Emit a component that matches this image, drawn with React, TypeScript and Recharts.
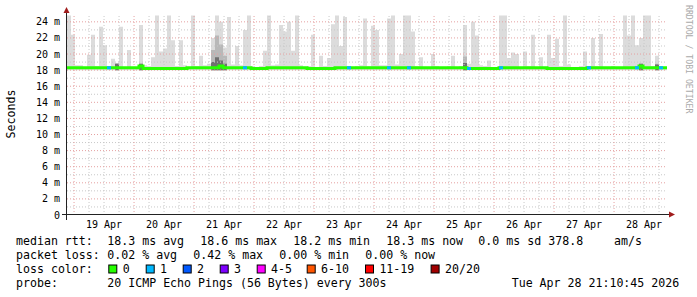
import React from 'react';
import { ComposedChart, Area, Line, XAxis, YAxis, ReferenceLine } from 'recharts';

// ---------- data ----------
const dayLabels = ['19 Apr', '20 Apr', '21 Apr', '22 Apr', '23 Apr', '24 Apr', '25 Apr', '26 Apr', '27 Apr', '28 Apr'];
const yTickValues = [0, 2, 4, 6, 8, 10, 12, 14, 16, 18, 20, 22, 24];
const yMinorValues = [1, 3, 5, 7, 9, 11, 13, 15, 17, 19, 21, 23];

// maximum of the smoke (ms) for each sample (10 days, 150 samples)
const smokeHigh = [
  24.8, 22.4, 18.6, 18.6, 18.4, 19.9, 22.4, 18.5, 23.4, 21.1,
  18.5, 19.4, 18.7, 23.4, 18.4, 20.5, 18.4, 18.4, 23.6, 18.6,
  18.5, 19.6, 24.8, 20.3, 20.7, 24.8, 21.7, 18.5, 21.7, 18.6,
  18.4, 24.8, 18.5, 19.8, 18.6, 18.8, 22.0, 24.8, 24.0, 20.8,
  24.6, 18.7, 21.0, 18.6, 23.0, 24.8, 18.5, 18.4, 18.5, 20.4,
  24.8, 18.6, 18.7, 23.6, 22.8, 24.0, 20.4, 24.8, 18.6, 18.4,
  18.5, 22.4, 18.4, 19.8, 18.5, 19.5, 23.7, 24.8, 21.0, 24.6,
  18.5, 18.4, 18.5, 18.6, 24.4, 18.5, 23.5, 23.0, 18.6, 18.6,
  24.4, 24.8, 18.7, 20.0, 24.8, 24.8, 22.8, 18.5, 19.6, 18.4,
  18.4, 20.0, 18.5, 18.4, 18.4, 18.5, 19.8, 18.4, 18.5, 23.6,
  18.8, 24.0, 22.3, 18.6, 18.5, 19.2, 18.4, 18.4, 24.8, 24.8,
  19.5, 20.2, 20.0, 18.4, 20.3, 18.5, 22.4, 18.4, 19.6, 18.4,
  22.4, 19.5, 21.9, 18.5, 24.8, 18.7, 18.4, 18.4, 18.5, 20.3,
  18.5, 22.0, 18.5, 22.5, 18.4, 18.4, 18.5, 18.4, 18.4, 24.8,
  22.3, 24.8, 21.1, 22.0, 24.8, 24.8, 18.5, 19.8, 18.4, 18.4,
];

// median rtt (ms) per sample
const medianRtt = [
  18.3, 18.3, 18.3, 18.3, 18.3, 18.3, 18.3, 18.3, 18.3, 18.3,
  18.3, 18.3, 18.3, 18.3, 18.3, 18.3, 18.3, 18.3, 18.5, 18.2,
  18.2, 18.2, 18.2, 18.2, 18.2, 18.2, 18.2, 18.2, 18.2, 18.2,
  18.3, 18.3, 18.3, 18.3, 18.3, 18.3, 18.3, 18.3, 18.5, 18.3,
  18.3, 18.3, 18.3, 18.3, 18.3, 18.3, 18.2, 18.2, 18.2, 18.2,
  18.3, 18.3, 18.3, 18.3, 18.3, 18.3, 18.3, 18.3, 18.3, 18.3,
  18.2, 18.2, 18.2, 18.2, 18.2, 18.2, 18.2, 18.3, 18.3, 18.3,
  18.3, 18.3, 18.3, 18.3, 18.3, 18.3, 18.3, 18.3, 18.3, 18.3,
  18.3, 18.3, 18.3, 18.3, 18.3, 18.3, 18.3, 18.3, 18.3, 18.3,
  18.3, 18.3, 18.3, 18.3, 18.3, 18.3, 18.3, 18.3, 18.3, 18.3,
  18.2, 18.2, 18.2, 18.2, 18.2, 18.2, 18.2, 18.2, 18.3, 18.3,
  18.3, 18.3, 18.3, 18.3, 18.3, 18.3, 18.3, 18.3, 18.3, 18.3,
  18.2, 18.2, 18.2, 18.2, 18.2, 18.2, 18.2, 18.2, 18.2, 18.2,
  18.3, 18.3, 18.3, 18.3, 18.3, 18.3, 18.3, 18.3, 18.3, 18.3,
  18.3, 18.3, 18.3, 18.5, 18.3, 18.3, 18.3, 18.3, 18.3, 18.3,
];

const SMOKE_FLOOR = 18.0; // fastest ping (ms)

// denser smoke around the median at some samples
const denseSmokeIdx = [12, 18, 36, 37, 38, 39, 99, 143, 147];
const denseSmokeMid = [18.9, 18.9, 20.5, 22.3, 21.2, 19.8, 19.7, 18.9, 18.8];
const denseSmokeCore = [18.75, 18.75, 19.0, 19.6, 19.2, 18.8, 18.9, 18.75, 18.7];

// samples with packet loss (lost pings out of 20)
const lossIdx = [10, 44, 70, 80, 85, 100, 108, 130, 142, 148];
const lossPings = [1, 1, 1, 1, 1, 1, 1, 1, 1, 1];

const rttStats = ['18.3 ms avg', '18.6 ms max', '18.2 ms min', '18.3 ms now', '0.0 ms sd', '378.8', 'am/s'];
const lossStats = ['0.02 % avg', '0.42 % max', '0.00 % min', '0.00 % now'];
const lossLegend = ['0', '1', '2', '3', '4-5', '6-10', '11-19', '20/20'];
const probeText = '20 ICMP Echo Pings (56 Bytes) every 300s';
const stampText = 'Tue Apr 28 21:10:45 2026';

// ---------- styles / layout ----------
const LOSS_COLORS = ['#26ff00', '#00b8ff', '#0059ff', '#7e00ff', '#ff00ff', '#ff5500', '#ff0000', '#a10000'];
const MINOR_GRID = '#c8c8c8';
const MAJOR_GRID = '#e5a0a0';
const W = 697;
const H = 297;
const PL = 67;
const PT = 15;
const PR = 667;
const PB = 215;
const MONO = "'DejaVu Sans Mono', monospace";
const ROW_Y = [245, 259, 273, 287];
const RTT_X = [107.3, 200.3, 293.3, 386.3, 478.3, 548.3, 614];
const LOSS_X = [107.3, 193.3, 279.3, 365.3];
const BOX_X = [108.3, 145.7, 182.7, 219.7, 256.7, 306.7, 365, 430.6];
const VAL_X = 107.3;
const STAMP_X = 511.7;

// ---------- time axis ----------
const END_HOUR = 9 * 24 + 21 + 10.75 / 60; // hours after 19 Apr 00:00
const SPAN_HOURS = 240;
const START_HOUR = END_HOUR - SPAN_HOURS;
const N = smokeHigh.length;
const STEP = SPAN_HOURS / N;

const majorXTicks = dayLabels.map((_, d) => d * 24);
const labelXTicks = dayLabels.map((_, d) => d * 24 + 12);
const minorXTicks = Array.from({ length: 40 }, (_, k) => k * 6).filter((h) => h % 24 !== 0);
const majorYGrid = yTickValues.filter((v) => v > 0);

const Y_MAX = 24.85;

const rows = Array.from({ length: N + 1 }, (_, k) => {
  const i = Math.min(k, N - 1);
  const di = denseSmokeIdx.indexOf(i);
  let loss: number | null = null;
  const li = k < N ? lossIdx.indexOf(k) : -1;
  const pli = lossIdx.indexOf(k - 1);
  if (li >= 0 && lossPings[li] > 0) loss = medianRtt[k];
  else if (k > 0 && pli >= 0 && lossPings[pli] > 0) loss = medianRtt[k - 1];
  return {
    t: START_HOUR + k * STEP,
    floor: SMOKE_FLOOR,
    light: smokeHigh[i] - SMOKE_FLOOR,
    mid: di >= 0 ? denseSmokeMid[di] - SMOKE_FLOOR : 0,
    core: di >= 0 ? denseSmokeCore[di] - SMOKE_FLOOR : 0,
    median: medianRtt[i],
    loss,
  };
});

const tickStyle = { fontFamily: MONO, fontSize: 10, fill: '#000' };
const ax = { xAxisId: 'major', yAxisId: 'major' } as const;

export default function App() {
  return (
    <div style={{ position: 'absolute', left: 0, top: 0, width: W, height: H, background: '#fff' }}>
      <ComposedChart width={W} height={H} data={rows} margin={{ top: PT, right: W - PR, bottom: H - PB - 20, left: PL - 60 }}>
        <XAxis xAxisId="major" dataKey="t" type="number" domain={[START_HOUR, END_HOUR]} ticks={majorXTicks} allowDataOverflow hide />
        <XAxis
          xAxisId="label"
          dataKey="t"
          type="number"
          domain={[START_HOUR, END_HOUR]}
          ticks={labelXTicks}
          interval={0}
          allowDataOverflow
          height={20}
          axisLine={false}
          tickLine={false}
          tickSize={0}
          tickMargin={6}
          tick={tickStyle}
          tickFormatter={(v: number) => dayLabels[Math.round((v - 12) / 24)] ?? ''}
        />
        <YAxis
          yAxisId="major"
          type="number"
          domain={[0, Y_MAX]}
          ticks={yTickValues}
          interval={0}
          allowDataOverflow
          width={60}
          axisLine={false}
          tickLine={false}
          tickSize={0}
          tickMargin={7}
          tick={tickStyle}
          tickFormatter={(v: number) => (v === 0 ? '0' : `${v} m`)}
        />

        <Area {...ax} type="stepAfter" dataKey="floor" stackId="light" fill="none" stroke="none" isAnimationActive={false} dot={false} activeDot={false} />
        <Area {...ax} type="stepAfter" dataKey="light" stackId="light" fill="#dcdcdc" fillOpacity={1} stroke="none" isAnimationActive={false} dot={false} activeDot={false} />
        <Area {...ax} type="stepAfter" dataKey="floor" stackId="mid" fill="none" stroke="none" isAnimationActive={false} dot={false} activeDot={false} />
        <Area {...ax} type="stepAfter" dataKey="mid" stackId="mid" fill="#b8b8b8" fillOpacity={1} stroke="none" isAnimationActive={false} dot={false} activeDot={false} />
        <Area {...ax} type="stepAfter" dataKey="floor" stackId="core" fill="none" stroke="none" isAnimationActive={false} dot={false} activeDot={false} />
        <Area {...ax} type="stepAfter" dataKey="core" stackId="core" fill="#707070" fillOpacity={1} stroke="none" isAnimationActive={false} dot={false} activeDot={false} />

        {yMinorValues.map((v) => (
          <ReferenceLine key={`hy${v}`} {...ax} y={v} stroke={MINOR_GRID} strokeDasharray="1 2" />
        ))}
        {minorXTicks.map((h) => (
          <ReferenceLine key={`hx${h}`} {...ax} x={h} stroke={MINOR_GRID} strokeDasharray="1 2" />
        ))}
        {majorYGrid.map((v) => (
          <ReferenceLine key={`my${v}`} {...ax} y={v} stroke={MAJOR_GRID} strokeDasharray="1 2" />
        ))}
        {majorXTicks.map((h) => (
          <ReferenceLine key={`mx${h}`} {...ax} x={h} stroke={MAJOR_GRID} strokeDasharray="1 2" />
        ))}

        <Line {...ax} type="stepAfter" dataKey="median" stroke={LOSS_COLORS[0]} strokeWidth={3} dot={false} activeDot={false} isAnimationActive={false} />
        <Line {...ax} type="stepAfter" dataKey="loss" stroke={LOSS_COLORS[1]} strokeWidth={3} dot={false} activeDot={false} connectNulls={false} isAnimationActive={false} />
      </ComposedChart>

      <svg width={W} height={H} style={{ position: 'absolute', left: 0, top: 0, pointerEvents: 'none' }}>
        {/* axes with arrows */}
        <line x1={PL - 0.5} y1={PB + 5} x2={PL - 0.5} y2={PT - 5} stroke="#222" strokeWidth={1} />
        <line x1={PL - 5} y1={PB - 0.5} x2={PR + 3} y2={PB - 0.5} stroke="#222" strokeWidth={1} />
        <polygon points={`${PL - 3.5},${PT - 2} ${PL - 0.5},${PT - 8} ${PL + 2.5},${PT - 2}`} fill="#a01c1c" />
        <polygon points={`${PR + 2},${PB - 3.5} ${PR + 8},${PB - 0.5} ${PR + 2},${PB + 2.5}`} fill="#a01c1c" />

        <text x={10.5} y={114} transform="rotate(-90, 10.5, 114)" textAnchor="middle" dominantBaseline="central" fontFamily={MONO} fontSize={11.6} fill="#000">
          Seconds
        </text>
        <text x={685.5} y={5} transform="rotate(90, 685.5, 5)" fontFamily={MONO} fontSize={8.2} fill="#aaaaaa">
          RRDTOOL / TOBI OETIKER
        </text>

        <g fontFamily={MONO} fontSize={11.6} fill="#000">
          <text x={16} y={ROW_Y[0]}>median rtt:</text>
          {rttStats.map((s, i) => (
            <text key={`r${i}`} x={RTT_X[i]} y={ROW_Y[0]}>{s}</text>
          ))}
          <text x={16} y={ROW_Y[1]}>packet loss:</text>
          {lossStats.map((s, i) => (
            <text key={`l${i}`} x={LOSS_X[i]} y={ROW_Y[1]}>{s}</text>
          ))}
          <text x={16} y={ROW_Y[2]}>loss color:</text>
          {lossLegend.map((s, i) => (
            <g key={`c${i}`}>
              <rect x={BOX_X[i] + 0.5} y={ROW_Y[2] - 8} width={8} height={8} fill={LOSS_COLORS[i]} stroke="#000" strokeWidth={1} />
              <text x={BOX_X[i] + 14.4} y={ROW_Y[2]}>{s}</text>
            </g>
          ))}
          <text x={16} y={ROW_Y[3]}>probe:</text>
          <text x={VAL_X} y={ROW_Y[3]}>{probeText}</text>
          <text x={STAMP_X} y={ROW_Y[3]}>{stampText}</text>
        </g>
      </svg>
    </div>
  );
}
